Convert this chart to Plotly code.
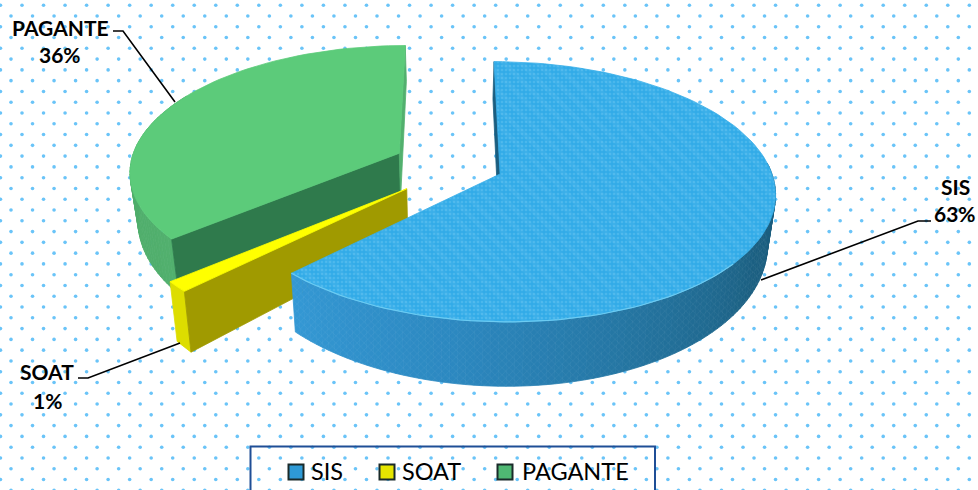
import math
import plotly.graph_objects as go

# ---- data ----
categories = ["SIS", "SOAT", "PAGANTE"]
values = [62.6, 1.3, 36.1]
top_colors = ["#35ADE9", "#FFFF00", "#5CCB7A"]
side_colors = ["#1B5E80", "#A09A00", "#2F7A4C"]
end_colors = ["#1B5E80", "#DDDD00", "#52B06E"]
swatch_colors = ["#2E9AD6", "#E6E600", "#4FB873"]

# ---- projection parameters (pseudo-3D camera) ----
W, H = 978, 490
Cx, Y0 = 450.0, 164.0
A, B, K = 269.0, 125.0, 0.135
D, S = 47.0, 0.025
EXPLODE = 0.205
CENTER = (-0.005, 0.0)
SOAT_SHIFT = (0.0, -0.055)


def proj(X, Y, z=0.0):
    w = 1 + K * Y
    x = Cx + A * X / w
    y = Y0 - B * Y / w
    x = Cx + (x - Cx) * (1 - S * z)
    y = y + D * z / (w * w)
    return x, y


def pt(c, th, r, z=0.0):
    return proj(c[0] + r * math.sin(th), c[1] + r * math.cos(th), z)


def arc(c, t0, t1, z=0.0, step=math.radians(2)):
    n = max(2, int(abs(t1 - t0) / step) + 1)
    return [pt(c, t0 + (t1 - t0) * i / (n - 1), 1.0, z) for i in range(n)]


fig = go.Figure()


def poly(points, color, pattern=None, line=None, width=0.8):
    xs = [p[0] for p in points] + [points[0][0]]
    ys = [p[1] for p in points] + [points[0][1]]
    kw = dict(fillpattern=pattern) if pattern else {}
    fig.add_trace(go.Scatter(x=xs, y=ys, mode="lines", fill="toself", fillcolor=color,
                             line=dict(color=line or color, width=width), hoverinfo="skip", **kw))


def lerp_color(stops, t):
    t = max(0, min(1, t)) * (len(stops) - 1)
    i = min(int(t), len(stops) - 2)
    f = t - i
    c = [int(round(stops[i][j] + (stops[i + 1][j] - stops[i][j]) * f)) for j in range(3)]
    return "rgb(%d,%d,%d)" % tuple(c)


def wall(c, t0, t1, stops, step=math.radians(1.5)):
    n = max(1, int((t1 - t0) / step))
    for i in range(n):
        a = t0 + (t1 - t0) * i / n
        b = t0 + (t1 - t0) * (i + 1) / n
        color = lerp_color(stops, (i + 0.5) / n)
        pts = arc(c, a, b) + arc(c, b, a, 1.0)
        poly(pts, color)


# ---- background dots ----
dots_x, dots_y = [], []
for r in range(46):
    yy = 5.2 + r * 10.78
    off = 22.0 if r % 2 == 0 else 11.0
    for i in range(-1, 47):
        dots_x.append(off + i * 21.53)
        dots_y.append(yy)
fig.add_trace(go.Scatter(x=dots_x, y=dots_y, mode="markers", hoverinfo="skip",
                         marker=dict(size=3.6, color="#6AC4F8", line=dict(width=0))))

# ---- slice angles from the values ----
total = sum(values)
bounds = [0.0]
for v in values:
    bounds.append(bounds[-1] + v / total * 2 * math.pi)
slices = []
for i, v in enumerate(values):
    t0, t1 = bounds[i], bounds[i + 1]
    m = (t0 + t1) / 2
    c = (CENTER[0] + EXPLODE * math.sin(m), CENTER[1] + EXPLODE * math.cos(m))
    slices.append((t0, t1, c))

# green (back)
t0, t1, c = slices[2]
wall(c, t0, math.radians(300), [(82, 176, 110), (76, 170, 104)])
ap, ap_b = proj(*c), proj(c[0], c[1], 1)
poly([ap, pt(c, t0, 1), pt(c, t0, 1, 1), ap_b], side_colors[2])
poly([ap, pt(c, t1, 1), pt(c, t1, 1, 1), ap_b], end_colors[2])
poly([ap] + arc(c, t0, t1), top_colors[2], line="#5CCB7A")

# yellow (middle)
t0, t1, c = slices[1]
c = (c[0] + SOAT_SHIFT[0], c[1] + SOAT_SHIFT[1])
ap, ap_b = proj(*c), proj(c[0], c[1], 1)
poly(arc(c, t0, t1) + arc(c, t1, t0, 1), end_colors[1])
poly([ap, pt(c, t0, 1), pt(c, t0, 1, 1), ap_b], side_colors[1])
poly([ap] + arc(c, t0, t1), top_colors[1])

# blue (front)
t0, t1, c = slices[0]
ap, ap_b = proj(*c), proj(c[0], c[1], 1)
poly([ap, pt(c, t0, 1), pt(c, t0, 1, 1), ap_b], side_colors[0])
wall_start = math.radians(85)
wall(c, wall_start, t1,
     [(27, 90, 122), (28, 96, 130), (36, 116, 160), (44, 136, 192), (52, 152, 212)])
wall_tex = dict(shape="x", fgcolor="rgba(255,255,255,0.16)", bgcolor="rgba(0,0,0,0)", size=5, solidity=0.2)
poly(arc(c, wall_start, t1) + arc(c, t1, wall_start, 1), "rgba(0,0,0,0)", pattern=wall_tex,
     line="rgba(0,0,0,0)")
blue_pat = dict(shape=".", fgcolor="#62C3F0", bgcolor="#32ABE8", size=4, solidity=0.35)
poly([ap] + arc(c, t0, t1), top_colors[0], pattern=blue_pat)
stripe_pat = dict(shape="\\", fgcolor="rgba(255,255,255,0.09)", bgcolor="rgba(0,0,0,0)", size=12, solidity=0.4)
poly([ap] + arc(c, t0, t1), "rgba(0,0,0,0)", pattern=stripe_pat, line="rgba(0,0,0,0)")
rim = arc(c, math.radians(130), t1)
fig.add_trace(go.Scatter(x=[p[0] for p in rim], y=[p[1] for p in rim], mode="lines",
                         line=dict(color="#6CCBF2", width=1.2), hoverinfo="skip"))

# ---- leader lines, labels, legend ----
shapes = []
for path in (["M113,31", "L123,31", "L175,102"],
             ["M931,221", "L918,221", "L761,280"],
             ["M78,378", "L88,378", "L180,343"]):
    shapes.append(dict(type="path", path=" ".join(path), line=dict(color="#000000", width=1.6)))
shapes.append(dict(type="rect", x0=250.5, y0=446.5, x1=655, y1=500,
                   line=dict(color="#1F4E96", width=2), fillcolor="rgba(0,0,0,0)"))

label_pos = {"SIS": (955, 186, 213), "SOAT": (47, 371, 400), "PAGANTE": (60, 27, 54)}
annotations = []
for name, v in zip(categories, values):
    x, y1, y2 = label_pos[name]
    for txt, yy in ((name, y1), (f"{round(v)}%", y2)):
        annotations.append(dict(x=x, y=yy, text=f"<b>{txt}</b>", showarrow=False, xanchor="center",
                                yanchor="middle", font=dict(family="Lato", size=21, color="#000000")))

legend_key_x = [296, 387, 505]
legend_text_x = [309, 400, 520]
fig.add_trace(go.Scatter(x=legend_key_x, y=[472] * 3, mode="markers", hoverinfo="skip",
                         marker=dict(symbol="square", size=15, color=swatch_colors,
                                     line=dict(color="#1A2A2A", width=2))))
for name, x in zip(categories, legend_text_x):
    annotations.append(dict(x=x, y=471, text=name, showarrow=False, xanchor="left", yanchor="middle",
                            font=dict(family="Lato", size=23.5, color="#000000")))

fig.update_layout(
    width=W, height=H, autosize=False, showlegend=False,
    margin=dict(l=0, r=0, t=0, b=0),
    paper_bgcolor="#FFFFFF", plot_bgcolor="#FFFFFF",
    xaxis=dict(range=[0, W], visible=False, fixedrange=True),
    yaxis=dict(range=[H, 0], visible=False, fixedrange=True),
    shapes=shapes, annotations=annotations,
)
fig.write_html("out.html", config={"displayModeBar": False},
               post_script="document.body.style.margin='0';document.body.style.overflow='hidden';")
